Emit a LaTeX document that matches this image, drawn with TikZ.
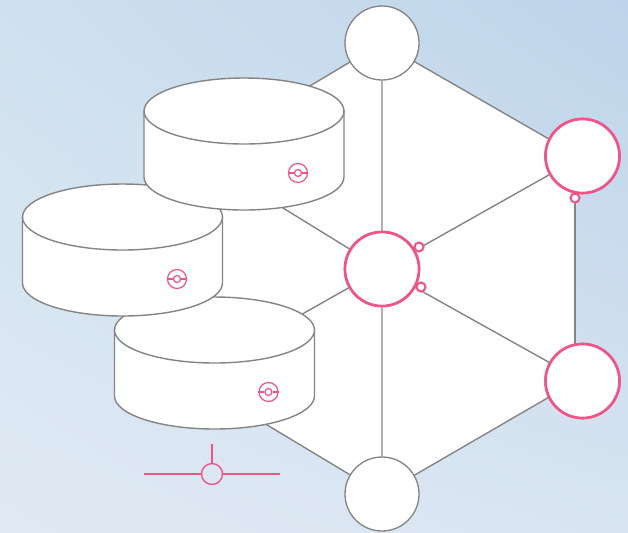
\documentclass[tikz,border=0pt]{standalone}
\usetikzlibrary{shapes.geometric,shadings}
\definecolor{rimgray}{HTML}{858585}
\definecolor{hotpink}{HTML}{F0558A}
\definecolor{skyUL}{RGB}{207,225,239}
\definecolor{skyUR}{RGB}{190,212,234}
\definecolor{skyLL}{RGB}{224,234,244}
\definecolor{skyLR}{RGB}{216,228,241}
\tikzset{
	spoke/.style={draw=rimgray,line width=.8pt},
	hub/.style={circle,draw=rimgray,fill=white,line width=.75pt,minimum size=1.48cm,inner sep=0},
	hubhot/.style={hub,draw=hotpink,line width=1.5pt},
	ring/.style={circle,draw=hotpink,fill=white,line width=1.2pt,minimum size=.18cm,inner sep=0},
	disktop/.style={ellipse,draw=rimgray,fill=white,line width=.8pt,minimum width=4cm,minimum height=1.32cm,inner sep=0,outer sep=0},
	diskwall/.style={draw=rimgray,fill=white,line width=.8pt},
	port/.style={circle,draw=hotpink,line width=.7pt,minimum size=.38cm,inner sep=0},
	portin/.style={circle,draw=hotpink,line width=.7pt,minimum size=.14cm,inner sep=0}
}
\begin{document}
\begin{tikzpicture}[x=.02cm,y=-.02cm]
	\useasboundingbox (0,0) rectangle (628,532);
	\shade[shading=bilinear interpolation,upper left=skyUL,upper right=skyUR,lower left=skyLL,lower right=skyLR]
	(0,0) rectangle (628,532);
	\path
	(575,154) coordinate (R1) (575,382) coordinate (R2)
	(189,158) coordinate (L1) (189,150) coordinate (Lm) (189,378) coordinate (L2)
	(144,474) coordinate (tapL) (280,474) coordinate (tapR) (212,444) coordinate (tapT)
	;
	\node[hub,draw=none] (top) at (382,43) {};
	\node[hub,draw=none] (bot) at (382,494) {};
	\fill[white] (top.center)--(R1)--(R2)--(bot.center)--(L2)--(L1)--cycle;
	\node[hubhot] (mid) at (382,269) {};
	\node[hubhot] (right1) at (582.5,156) {};
	\node[hubhot] (right2) at (582.5,381) {};
	\draw[spoke] (top.center)--(R1) (bot.center)--(R2);
	\draw[spoke] (top.center)--(L1) (bot.center)--(L2);
	\draw[spoke] (mid)--(top) (mid)--(bot) (mid)--(Lm) (mid)--(L2);
	\draw[spoke] (mid)--(right1) (mid)--(right2);
	\draw[spoke] (R1)--(R2);
	\node[hub] at (top) {};
	\node[hub] at (bot) {};
	\node[hubhot] at (mid) {};
	\node[hubhot] at (right1) {};
	\node[hubhot] at (right2) {};
	\node[ring] (ringA) at (419,247) {};
	\node[ring] (ringB) at (421,287) {};
	\node[ring] (ringC) at (575,198) {};
	% stacked disks, lowest first
	\foreach \n/\x/\y/\a/\b in {3/214.5/330/268.5/392,2/122.5/217/177/279,1/244/111/298/173}{
		\draw[diskwall] (\x-100,\y)--(\x-100,\y+66) arc[x radius=2cm,y radius=.66cm,start angle=180,end angle=360]--(\x+100,\y)--cycle;
		\node[disktop] (disk\n) at (\x,\y) {};
		\node[port] (port\n) at (\a,\b) {};
		\node[portin] (pin\n) at (\a,\b) {};
		\draw[hotpink,line width=.7pt] (port\n.west)--(pin\n.west) (pin\n.east)--(port\n.east);
	}
	\node[port,minimum size=.42cm,line width=.8pt] (tap) at (212,474) {};
	\draw[hotpink,line width=.8pt] (tapL)--(tap) (tap)--(tapR) (tapT)--(tap);
\end{tikzpicture}
\end{document}
